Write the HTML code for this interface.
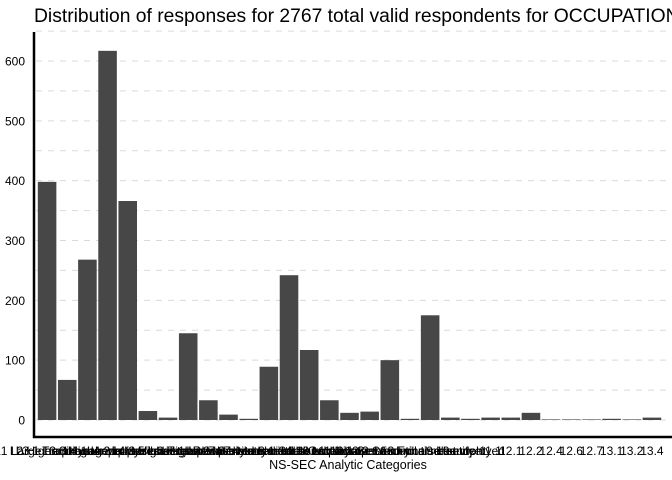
<!DOCTYPE html>
<html><head><meta charset="utf-8"><style>
html,body{margin:0;padding:0;background:#fff;}
svg{display:block;font-family:"Liberation Sans",Arial,sans-serif;}
</style></head><body>
<svg id="chart" width="672" height="480">
<text x="34" y="22" font-size="19.3" fill="#000">Distribution of responses for 2767 total valid respondents for OCCUPATION</text>
<g id="grid"></g><g id="bars"></g><g id="yticks"></g><g id="xticks"></g>
<line x1="34" y1="32" x2="34" y2="438" stroke="#000" stroke-width="2.5"/>
<line x1="33" y1="437" x2="672" y2="437" stroke="#000" stroke-width="2.5"/>
<text x="348" y="469" font-size="12.5" text-anchor="middle">NS-SEC Analytic Categories</text>
</svg>
<script>
const categories = ["L1 Large employers","L2 Higher managerial","L3.1 Traditional employees","L3.3 Higher professional","L4.1 Lower professional","L4.2 Lower managerial","L4.3 Higher technical","L5 Lower supervisory","L6 Higher supervisory","L7.1 Intermediate clerical","L7.2 Intermediate sales","L7.3 Intermediate service","L7.4 Intermediate technical","L8.1 Small employers","L9.1 Own account","L10 Lower supervisory","L11.1 Lower technical","L12.1 Semi-routine sales","L12.2 Semi-routine service","L13 Full-time student","9 identify","10 employed","11.1","12.1","12.2","12.4","12.6","12.7","13.1","13.2","13.4"];
const values = [398,67,268,617,366,15,4,145,33,9,2,89,242,117,33,12,14,100,2,175,4,2,4,4,12,1,1,1,2,1,4];
const yTicks = [0,100,200,300,400,500,600];
const NS="http://www.w3.org/2000/svg";
const x0=37, x1=662, yBase=420, pxPer=359/600;
const step=(x1-x0)/categories.length, bw=step-1.6;
const y=v=>yBase-v*pxPer;
function mk(t,a,p){const e=document.createElementNS(NS,t);for(const k in a)e.setAttribute(k,a[k]);p.appendChild(e);return e;}
const grid=document.getElementById('grid'),bars=document.getElementById('bars'),yt=document.getElementById('yticks'),xt=document.getElementById('xticks');
for(let v=0;v<=650;v+=50){
  const g=mk('line',{x1:36,x2:672,y1:y(v),y2:y(v),stroke:'#d9d9d9','stroke-width':1,'stroke-dasharray':'6,6'},grid);
  
  
}
yTicks.forEach(v=>{
  const t=mk('text',{x:25,y:y(v)+4.5,'font-size':12,'text-anchor':'end',fill:'#000'},yt);
  t.textContent=v;
  
  
});
categories.forEach((c,i)=>{
  const bx=x0+i*step+0.8;
  const r=mk('rect',{x:bx,y:y(values[i]),width:bw,height:values[i]*pxPer,fill:'#474747'},bars);
  
  
  const t=mk('text',{x:bx+bw/2,y:455,'font-size':12,'text-anchor':'middle',fill:'#000'},xt);
  t.textContent=c;
  
  
});
</script>
</body></html>
